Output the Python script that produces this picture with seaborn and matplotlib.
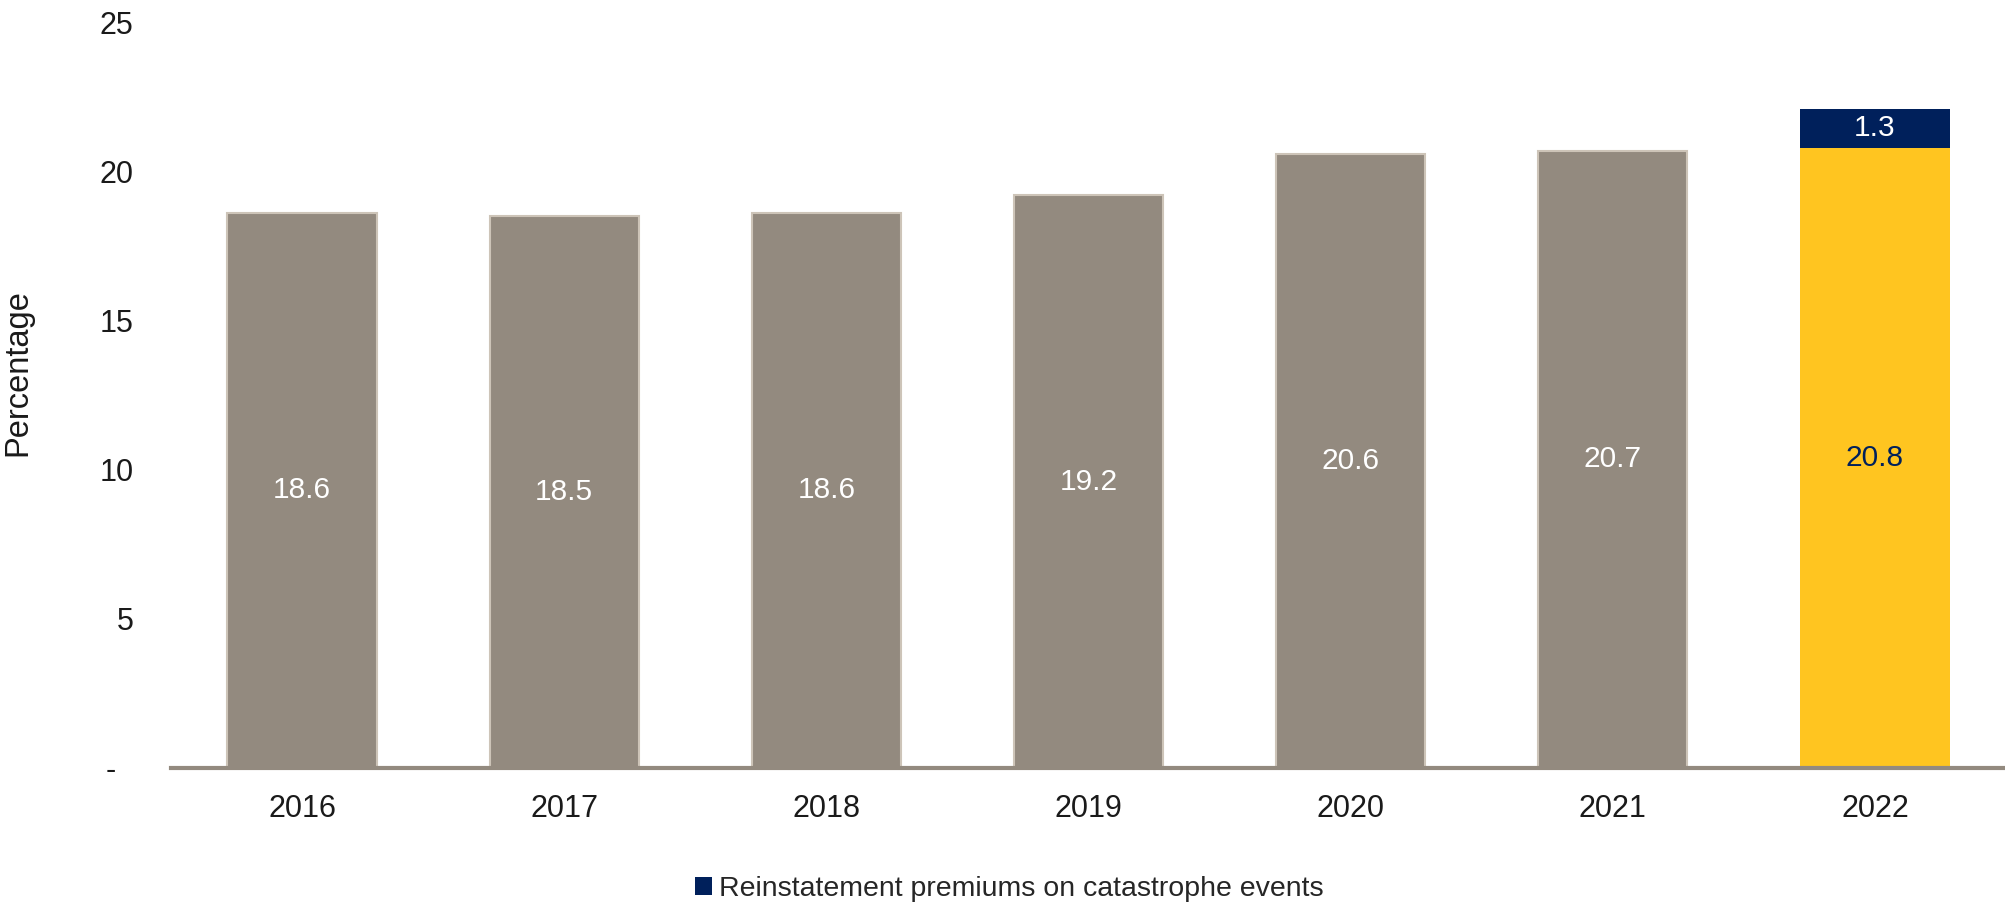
import matplotlib
matplotlib.use("Agg")
import matplotlib.pyplot as plt
from matplotlib.patches import Patch
import seaborn as sns
import pandas as pd

years = ["2016", "2017", "2018", "2019", "2020", "2021", "2022"]
base_values = [18.6, 18.5, 18.6, 19.2, 20.6, 20.7, 20.8]
reinstatement = [0, 0, 0, 0, 0, 0, 1.3]
y_ticks = [0, 5, 10, 15, 20, 25]
y_tick_labels = ["-  ", "5", "10", "15", "20", "25"]
legend_label = "Reinstatement premiums on catastrophe events"

GRAY = "#938a7f"
GRAY_EDGE = "#cdc4b8"
YELLOW = "#ffc520"
NAVY = "#00205b"
TEXT = "#1a1a1a"

sns.set_theme(style="white")
plt.rcParams["font.family"] = ["Liberation Sans", "DejaVu Sans"]

df = pd.DataFrame({"year": years, "base": base_values, "extra": reinstatement})
bar_colors = {y: (YELLOW if y == "2022" else GRAY) for y in years}

fig = plt.figure(figsize=(20.06, 9.08), dpi=100)
ax = fig.add_axes([171 / 2006, 1 - 767.6 / 908, 1 - 171 / 2006, (767.6 - 22.6) / 908])

sns.barplot(data=df, x="year", y="base", hue="year", palette=bar_colors,
            width=0.57, legend=False, ax=ax, saturation=1)
for patch, y in zip(ax.patches, years):
    if y != "2022":
        patch.set_edgecolor(GRAY_EDGE)
        patch.set_linewidth(1.5)
    else:
        patch.set_edgecolor("none")

# stacked reinstatement segment on top of the base bars
for i, (b, e) in enumerate(zip(base_values, reinstatement)):
    if e > 0:
        ax.bar(i, e, bottom=b, width=0.57, color=NAVY, edgecolor="none")
        ax.text(i, b + e / 2, f"{e:.1f}", ha="center", va="center",
                color="white", fontsize=21.5)

for i, (y, b) in enumerate(zip(years, base_values)):
    ax.text(i, b / 2, f"{b:.1f}", ha="center", va="center",
            color=(NAVY if y == "2022" else "white"), fontsize=21.5)

ax.set_xlim(-0.5, 6.5)
ax.set_ylim(0, 25)
ax.set_yticks(y_ticks)
ax.set_yticklabels(y_tick_labels)
ax.tick_params(axis="both", length=0, labelsize=22, colors=TEXT)
ax.tick_params(axis="y", pad=27)
ax.tick_params(axis="x", pad=19)
ax.set_xlabel("")
ax.set_ylabel("")
fig.text(18 / 2006, 1 - 373 / 908, "Percentage", rotation=90, ha="center",
         va="center", fontsize=23.5, color=TEXT)

for side in ["top", "right", "left"]:
    ax.spines[side].set_visible(False)
ax.spines["bottom"].set_color(GRAY)
ax.spines["bottom"].set_linewidth(3)

fig.legend(handles=[Patch(facecolor=NAVY, edgecolor="none", label=legend_label)],
           loc="center", bbox_to_anchor=(0.5032, 0.021), frameon=False,
           fontsize=20.5, handlelength=0.6, handleheight=0.6, handletextpad=0.25,
           borderpad=0, borderaxespad=0)

fig.savefig("out.png", dpi=100)
